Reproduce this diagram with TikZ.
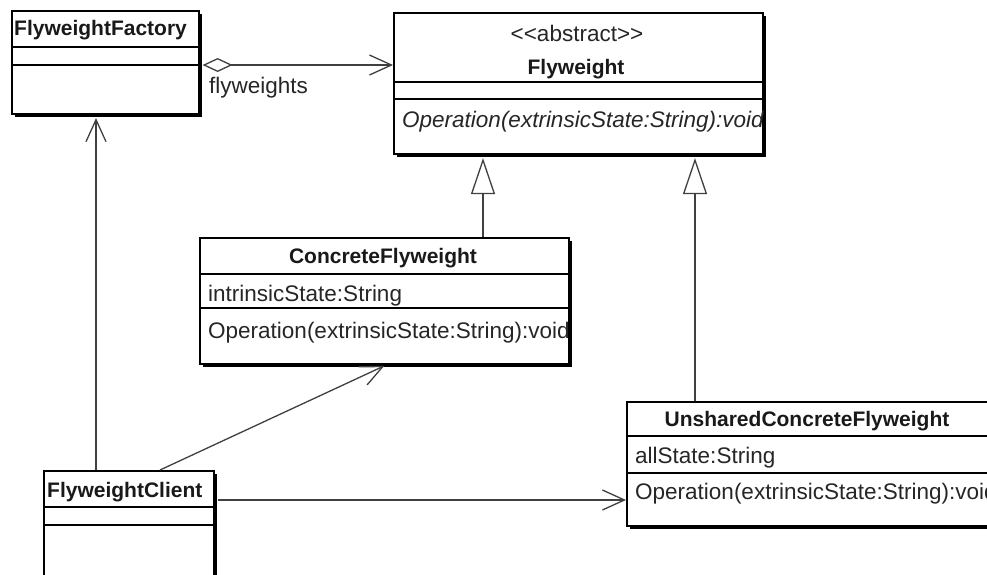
\documentclass[tikz,border=0pt]{standalone}
\usepackage{fontspec}
\setmainfont{Liberation Sans}
\usetikzlibrary{arrows.meta,shadows}
\begin{document}
\begin{tikzpicture}[x=1pt,y=-1pt,
  box/.style={draw=black, line width=1.6pt, fill=white, rectangle, inner sep=0pt, anchor=north west,
    drop shadow={shadow xshift=3pt, shadow yshift=-3.5pt, opacity=1, fill=black}},
  sep/.style={draw=black, line width=1.4pt},
  cname/.style={font=\fontsize{21}{24}\selectfont\bfseries, inner sep=0pt, text=black!90},
  member/.style={font=\fontsize{22.5}{26}\selectfont, inner sep=0pt, anchor=west, text=black!85},
  conn/.style={draw=black!75, line width=1.3pt},
  assoc/.style={conn, -{Straight Barb[length=22pt,width=20pt,line width=1.3pt]}},
  gen/.style={conn, -{Triangle[open,length=36pt,width=24pt,line width=1.3pt,fill=white]}},
  aggr/.style={conn, {Diamond[open,length=30pt,width=14pt,line width=1.3pt,fill=white]}-{Straight Barb[length=22pt,width=20pt,line width=1.3pt]}}
]
\clip (0,0) rectangle (987,574);
\fill[white] (0,0) rectangle (987,574);

% boxes
\node[box, minimum width=187pt, minimum height=103pt] (factory) at (11,10) {};
\node[box, minimum width=369pt, minimum height=141pt] (flyweight) at (393,12) {};
\node[box, minimum width=369pt, minimum height=126pt] (concrete) at (199,237) {};
\node[box, minimum width=366pt, minimum height=124pt] (unshared) at (626,401) {};
\node[box, minimum width=170pt, minimum height=140pt] (client) at (43,470) {};

% compartments
\draw[sep] (factory.west |- 0,47) -- (factory.east |- 0,47);
\draw[sep] (factory.west |- 0,65) -- (factory.east |- 0,65);
\draw[sep] (flyweight.west |- 0,82) -- (flyweight.east |- 0,82);
\draw[sep] (flyweight.west |- 0,99) -- (flyweight.east |- 0,99);
\draw[sep] (concrete.west |- 0,274) -- (concrete.east |- 0,274);
\draw[sep] (concrete.west |- 0,308) -- (concrete.east |- 0,308);
\draw[sep] (unshared.west |- 0,436) -- (unshared.east |- 0,436);
\draw[sep] (unshared.west |- 0,473) -- (unshared.east |- 0,473);
\draw[sep] (client.west |- 0,507) -- (client.east |- 0,507);
\draw[sep] (client.west |- 0,525) -- (client.east |- 0,525);

% texts
\node[cname, anchor=west] (factoryname) at (14,30) {FlyweightFactory};
\node[member, anchor=center] (stereo) at (577,33) {<\kern0pt<abstract>\kern0pt>};
\node[cname] (flyname) at (576,69) {Flyweight};
\begin{scope}
  \clip (flyweight.north west) rectangle (flyweight.south east);
  \node[member, font=\fontsize{22.5}{26}\selectfont\itshape] (flyop) at (402,122) {Operation(extrinsicState:String):void};
\end{scope}
\node[cname] (concname) at (383,258) {ConcreteFlyweight};
\begin{scope}
  \clip (concrete.north west) rectangle (concrete.south east);
  \node[member] (concattr) at (208,296) {intrinsicState:String};
  \node[member] (concop) at (208,333) {Operation(extrinsicState:String):void};
\end{scope}
\node[cname] (unsname) at (807,421) {UnsharedConcreteFlyweight};
\node[member] (unsattr) at (635,458) {allState:String};
\begin{scope}
  \clip (unshared.north west) rectangle (987,525);
  \node[member] (unsop) at (635,494) {Operation(extrinsicState:String):void};
\end{scope}
\node[cname, anchor=west] (clientname) at (47,492) {FlyweightClient};

% connectors
\draw[aggr, shorten <=3pt] (factory.east |- 0,65) -- (flyweight.west |- 0,65);
\node[member] (aggrlabel) at (209,88) {flyweights};
\draw[gen, shorten >=3.5pt] (concrete.north -| 483,0) -- (flyweight.south -| 483,0);
\draw[gen, shorten >=3.5pt] (unshared.north -| 695,0) -- (flyweight.south -| 695,0);
\draw[assoc, shorten >=3.5pt] (client.north -| 96,0) -- (factory.south -| 96,0);
\draw[assoc, shorten >=3pt] (client.north -| 160,0) -- (concrete.south -| 387,0);
\draw[assoc, shorten <=3pt] (client.east |- 0,500) -- (unshared.west |- 0,500);
\end{tikzpicture}
\end{document}
